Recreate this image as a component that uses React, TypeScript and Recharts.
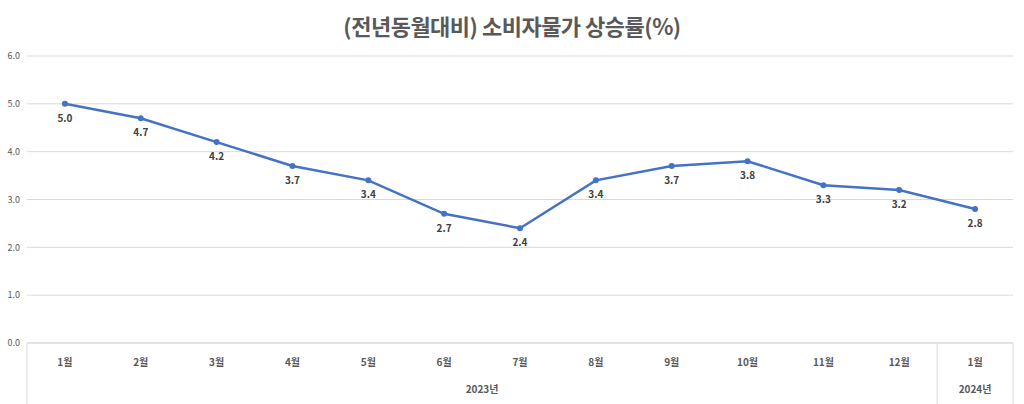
import { LineChart, Line, XAxis, YAxis, CartesianGrid, LabelList } from "recharts";

const months = ["1월", "2월", "3월", "4월", "5월", "6월", "7월", "8월", "9월", "10월", "11월", "12월", "1월"];
const years = ["2023년", "2023년", "2023년", "2023년", "2023년", "2023년", "2023년", "2023년", "2023년", "2023년", "2023년", "2023년", "2024년"];
const cpi = [5.0, 4.7, 4.2, 3.7, 3.4, 2.7, 2.4, 3.4, 3.7, 3.8, 3.3, 3.2, 2.8];
const yTicks = [0, 1, 2, 3, 4, 5, 6];

const data = months.map((m, i) => ({ idx: i, month: m, year: years[i], value: cpi[i] }));

const W = 1024;
const H = 404;
const MARGIN = { top: 56, right: 11, left: 0, bottom: 0 };
const Y_W = 27;
const MONTH_H = 30;
const YEAR_H = 31;
const BAND = (W - MARGIN.left - MARGIN.right - Y_W) / months.length;
const PAD = { left: BAND / 2, right: BAND / 2 };
const FONT = "'Noto Sans CJK KR', 'Noto Sans', sans-serif";

// eslint-disable-next-line @typescript-eslint/no-explicit-any
const MonthTick = ({ x, y, payload }: any) => (
  <text x={x} y={y + 21} textAnchor="middle" fontSize={10} fontWeight={700} fill="#595959" fontFamily={FONT}>
    {months[payload.index]}
  </text>
);

// 연도 구분: 그룹 가운데에 라벨, 경계에 세로선
// eslint-disable-next-line @typescript-eslint/no-explicit-any
const YearTick = ({ x, y, payload }: any) => {
  const i = payload.index;
  const yr = years[i];
  const first = years.indexOf(yr);
  const last = years.lastIndexOf(yr);
  const mid = (first + last) / 2;
  const top = y - MONTH_H;
  const bottom = y + YEAR_H;
  return (
    <g>
      {i === first && <line x1={x - BAND / 2} x2={x - BAND / 2} y1={top} y2={bottom} stroke="#d9d9d9" />}
      {i === years.length - 1 && <line x1={x + BAND / 2} x2={x + BAND / 2} y1={top} y2={bottom} stroke="#d9d9d9" />}
      {i === Math.floor(mid) && (
        <text x={x + (mid - i) * BAND} y={y + 20} textAnchor="middle" fontSize={10} fontWeight={700} fill="#595959" fontFamily={FONT}>
          {yr}
        </text>
      )}
    </g>
  );
};

export default function App() {
  return (
    <div style={{ position: "fixed", left: 0, top: 0, width: W, height: H, background: "#fff", fontFamily: FONT }}>
      <div style={{ position: "absolute", top: 9, width: W, textAlign: "center", fontSize: 22, fontWeight: 700, color: "#595959", letterSpacing: -0.5 }}>
        (전년동월대비) 소비자물가 상승률(%)
      </div>
      <LineChart width={W} height={H} data={data} margin={MARGIN}>
        <CartesianGrid horizontal vertical={false} stroke="#d9d9d9" />
        <XAxis
          dataKey="idx"
          xAxisId="m"
          height={MONTH_H}
          padding={PAD}
          axisLine={{ stroke: "#d9d9d9" }}
          tickLine={false}
          tickSize={0}
          tick={<MonthTick />}
          interval={0}
        />
        <XAxis
          dataKey="idx"
          xAxisId="y"
          height={YEAR_H}
          padding={PAD}
          axisLine={false}
          tickLine={false}
          tickSize={0}
          tickMargin={0}
          tick={<YearTick />}
          interval={0}
        />
        <YAxis
          width={Y_W}
          domain={[0, 6]}
          ticks={yTicks}
          axisLine={false}
          tickLine={false}
          tickSize={0}
          tickMargin={7}
          tickFormatter={(v: number) => v.toFixed(1)}
          tick={{ fontSize: 9, fill: "#595959", fontFamily: FONT }}
        />
        <Line
          xAxisId="m"
          dataKey="value"
          stroke="#4472c4"
          strokeWidth={2.5}
          dot={{ r: 3, fill: "#4472c4", stroke: "#4472c4", strokeWidth: 0 }}
          isAnimationActive={false}
        >
          <LabelList
            dataKey="value"
            position="bottom"
            offset={11}
            formatter={(v: number) => v.toFixed(1)}
            style={{ fontSize: 10, fontWeight: 700, fill: "#404040", fontFamily: FONT }}
          />
        </Line>
      </LineChart>
    </div>
  );
}
